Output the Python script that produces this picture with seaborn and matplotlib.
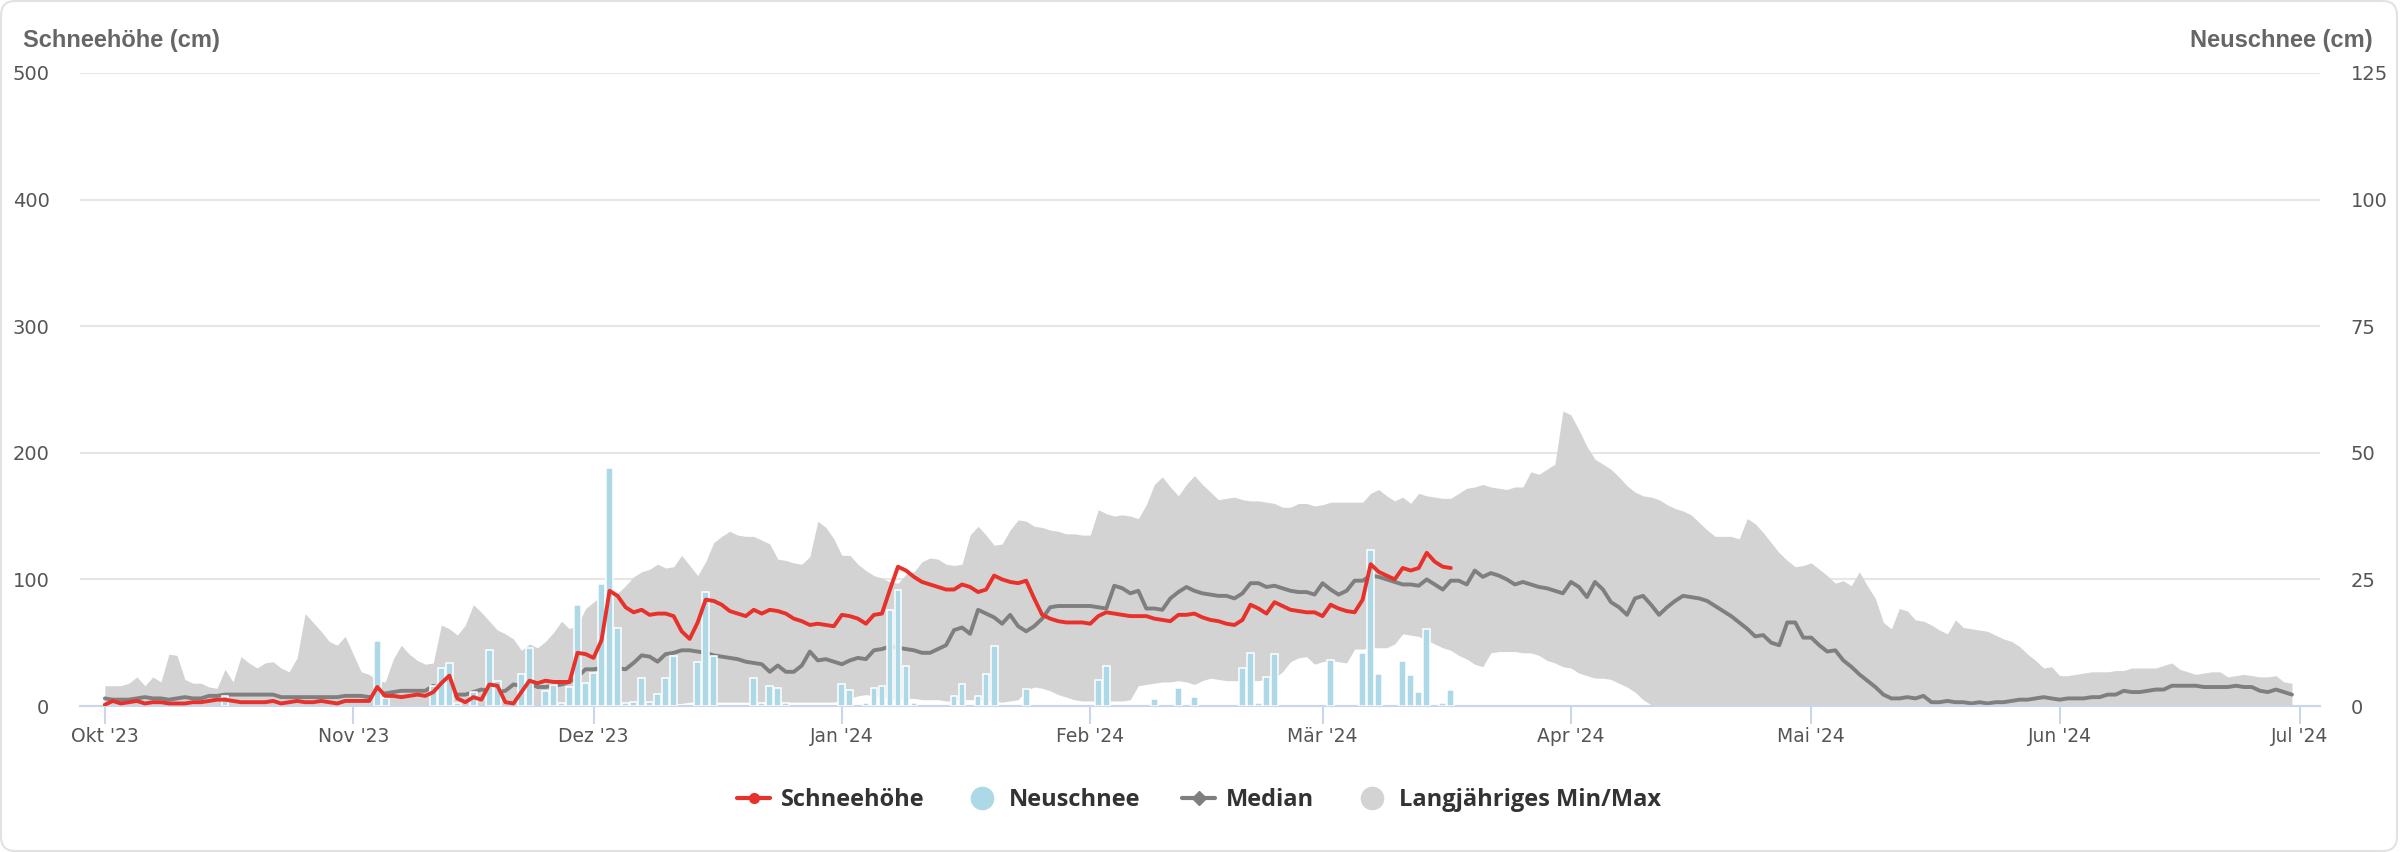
"""Schneehöhe vs. Neuschnee, season 2023/24, with long-term median and min/max band."""

import numpy as np
import pandas as pd
import matplotlib
matplotlib.use("Agg")
import matplotlib.pyplot as plt
import seaborn as sns
from matplotlib.lines import Line2D
from matplotlib.patches import FancyBboxPatch


START = "2023-10-01"

# daily snow depth (cm), 1 Oct 2023 .. 17 Mar 2024
SCHNEEHOEHE = [
    1, 4, 2, 3, 4, 2, 3, 3, 2, 2,
    2, 3, 3, 4, 5, 5, 4, 3, 3, 3,
    3, 4, 2, 3, 4, 3, 3, 4, 3, 2,
    4, 4, 4, 4, 15, 8, 8, 7, 8, 9,
    8, 11, 18, 24, 6, 3, 7, 5, 17, 16,
    3, 2, 11, 20, 18, 20, 19, 19, 19, 42,
    41, 38, 52, 91, 87, 78, 74, 76, 72, 73,
    73, 71, 59, 53, 66, 84, 83, 80, 75, 73,
    71, 76, 73, 76, 75, 73, 69, 67, 64, 65,
    64, 63, 72, 71, 69, 65, 72, 73, 92, 110,
    107, 102, 98, 96, 94, 92, 92, 96, 94, 90,
    92, 103, 100, 98, 97, 99, 85, 72, 69, 67,
    66, 66, 66, 65, 71, 74, 73, 72, 71, 71,
    71, 69, 68, 67, 72, 72, 73, 70, 68, 67,
    65, 64, 68, 80, 77, 73, 82, 79, 76, 75,
    74, 74, 71, 80, 77, 75, 74, 84, 112, 106,
    103, 100, 109, 107, 109, 121, 114, 110, 109,
]

# daily new snow (cm), same days
NEUSCHNEE = [
    0, 0, 0, 0, 0, 0, 0, 0, 0, 0,
    0, 0, 0, 0, 0, 2, 0, 0, 0, 0,
    0, 0, 0, 0, 0, 0, 0, 0, 0, 0,
    0, 0, 0, 0, 12.9, 1.5, 0, 0, 0, 0,
    0, 4, 7.6, 8.4, 0.5, 0, 2.8, 0, 11.1, 5,
    0, 0, 6.4, 11.5, 0, 3, 4.1, 0.5, 3.8, 20,
    4.6, 6.6, 24, 47, 15.5, 0.5, 0.7, 5.6, 0.7, 2.3,
    5.6, 9.9, 0, 0, 8.7, 22.6, 9.9, 0, 0, 0,
    0, 5.6, 0.5, 4, 3.6, 0.5, 0, 0, 0, 0,
    0, 0, 4.4, 3.2, 0, 0.6, 3.5, 4, 19, 23,
    7.9, 0.5, 0, 0, 0, 0, 1.9, 4.3, 0, 2,
    6.3, 11.9, 0, 0, 0, 3.4, 0, 0, 0, 0,
    0, 0, 0, 0, 5.1, 7.9, 0, 0, 0, 0,
    0, 1.3, 0, 0, 3.6, 0, 1.7, 0, 0, 0,
    0, 0, 7.5, 10.5, 0.5, 5.8, 10.2, 0, 0, 0,
    0, 0, 0, 9, 0, 0, 0, 10.4, 30.8, 6.4,
    0, 0, 8.8, 6.1, 2.8, 15.3, 0, 0.5, 3.2,
]

# long-term median snow depth, 1 Oct .. 30 Jun
MEDIAN = [
    6, 5, 5, 5, 6, 7, 6, 6, 5, 6,
    7, 6, 6, 8, 8, 9, 9, 9, 9, 9,
    9, 9, 7, 7, 7, 7, 7, 7, 7, 7,
    8, 8, 8, 7, 8, 10, 11, 12, 12, 12,
    12, 16, 12, 9, 9, 9, 11, 13, 12, 11,
    12, 17, 16, 18, 15, 15, 16, 17, 19, 23,
    29, 29, 30, 30, 30, 29, 34, 40, 39, 35,
    41, 42, 44, 44, 43, 42, 40, 39, 38, 37,
    35, 34, 33, 27, 32, 27, 27, 32, 43, 36,
    37, 35, 33, 36, 38, 37, 44, 45, 47, 46,
    45, 44, 42, 42, 45, 48, 60, 62, 57, 76,
    73, 70, 65, 72, 63, 59, 63, 69, 78, 79,
    79, 79, 79, 79, 78, 77, 95, 93, 89, 91,
    77, 77, 76, 85, 90, 94, 91, 89, 88, 87,
    87, 85, 89, 97, 97, 94, 95, 93, 91, 90,
    90, 88, 97, 92, 88, 91, 99, 99, 103, 102,
    100, 98, 96, 96, 95, 100, 96, 92, 99, 99,
    96, 107, 102, 105, 103, 100, 96, 98, 96, 94,
    93, 91, 89, 98, 94, 86, 98, 92, 82, 78,
    72, 85, 87, 80, 72, 78, 83, 87, 86, 85,
    83, 79, 75, 71, 66, 61, 55, 56, 50, 48,
    66, 66, 54, 54, 48, 43, 44, 36, 31, 25,
    20, 15, 9, 6, 6, 7, 6, 8, 3, 3,
    4, 3, 3, 2, 3, 2, 3, 3, 4, 5,
    5, 6, 7, 6, 5, 6, 6, 6, 7, 7,
    9, 9, 12, 11, 11, 12, 13, 13, 16, 16,
    16, 16, 15, 15, 15, 15, 16, 15, 15, 12,
    11, 13, 11, 9,
]

# long-term maximum
MAX_HIST = [
    16, 16, 16, 18, 23, 16, 23, 19, 41, 40,
    21, 18, 18, 15, 14, 29, 19, 39, 34, 30,
    34, 35, 30, 27, 38, 73, 66, 59, 51, 48,
    55, 41, 27, 25, 20, 19, 37, 48, 41, 36,
    33, 34, 64, 61, 56, 64, 80, 74, 67, 60,
    57, 53, 44, 49, 46, 51, 58, 67, 61, 64,
    77, 82, 87, 90, 89, 95, 102, 106, 108, 112,
    109, 110, 119, 111, 103, 114, 129, 134, 138, 135,
    134, 134, 131, 128, 116, 115, 113, 112, 118, 146,
    141, 132, 119, 119, 112, 107, 103, 101, 98, 97,
    104, 106, 114, 117, 116, 112, 111, 112, 135, 142,
    135, 127, 128, 139, 147, 146, 142, 141, 139, 138,
    136, 136, 135, 135, 155, 152, 150, 151, 150, 148,
    159, 175, 181, 173, 166, 175, 182, 175, 169, 163,
    164, 165, 163, 162, 162, 161, 160, 157, 157, 160,
    160, 158, 159, 161, 161, 161, 161, 161, 168, 171,
    166, 162, 165, 160, 168, 166, 165, 164, 164, 168,
    172, 173, 175, 173, 172, 171, 173, 173, 185, 183,
    187, 191, 233, 230, 218, 205, 195, 191, 187, 181,
    174, 169, 166, 165, 163, 159, 156, 154, 151, 145,
    139, 134, 134, 134, 132, 148, 144, 137, 129, 121,
    115, 110, 111, 113, 108, 103, 97, 99, 95, 106,
    95, 85, 66, 61, 77, 75, 68, 67, 64, 60,
    57, 68, 62, 61, 60, 59, 56, 53, 51, 47,
    41, 36, 30, 31, 24, 24, 25, 26, 27, 27,
    27, 28, 28, 30, 30, 30, 30, 32, 34, 29,
    27, 25, 26, 27, 27, 23, 24, 25, 24, 23,
    23, 24, 19, 18,
]

# long-term minimum
MIN_HIST = [0] * 60 + [
    1, 1, 1, 1, 1, 1, 1, 1, 1, 1,
    2, 2, 2, 3, 3, 3, 3, 3, 3, 3,
    3, 3, 3, 3, 3, 3, 3, 3, 3, 3,
    3, 3, 5, 6, 8, 9, 8, 7, 5, 5,
    6, 6, 5, 5, 5, 4, 4, 5, 5, 5,
    4, 4, 3, 4, 5, 12, 15, 14, 12, 9,
    7, 5, 4, 4, 4, 4, 4, 4, 5, 16,
    17, 18, 19, 19, 20, 19, 17, 20, 22, 21,
    20, 20, 20, 20, 20, 21, 22, 27, 35, 38,
    39, 33, 35, 36, 35, 34, 45, 45, 46, 46,
    46, 49, 57, 56, 55, 52, 49, 46, 44, 40,
    37, 33, 31, 42, 43, 43, 43, 42, 42, 40,
    36, 34, 31, 30, 26, 24, 22, 22, 21, 18,
    15, 11, 5, 1,
] + [0] * 80

MONTH_LABELS = ["Okt '23", "Nov '23", "Dez '23", "Jan '24", "Feb '24",
                "Mär '24", "Apr '24", "Mai '24", "Jun '24", "Jul '24"]

RED = "#e8312a"
BLUE = "#add8e6"
GREY = "#7f7f7f"
BAND = "#d3d3d3"

sns.set_theme(style="white")
plt.rcParams["font.family"] = ["DejaVu Sans"]

days_all = pd.date_range(START, periods=len(MEDIAN), freq="D")
days_cur = pd.date_range(START, periods=len(SCHNEEHOEHE), freq="D")
neu = np.array(NEUSCHNEE, dtype=float)
has_neu = neu > 0

W, H = 2404, 852
fig = plt.figure(figsize=(W / 100, H / 100), dpi=100)
ax = fig.add_axes([80 / W, 1 - 706 / H, 2240 / W, 633 / H])

# band + median on the left scale
ax.fill_between(days_all, MIN_HIST, MAX_HIST, color=BAND, lw=0, zorder=1)
sns.lineplot(x=days_all, y=MEDIAN, ax=ax, color=GREY, lw=2.8, zorder=2)

# new snow on the right scale
ax_n = ax.twinx()
ax_n.bar(days_cur[has_neu], neu[has_neu], width=0.85, color=BLUE,
         edgecolor="white", linewidth=1.1)

# current snow depth on top
ax_r = ax.twinx()
sns.lineplot(x=days_cur, y=SCHNEEHOEHE, ax=ax_r, color=RED, lw=2.8)

t0 = pd.Timestamp(START)
ax.set_xlim(t0 - pd.Timedelta(days=3.1), t0 + pd.Timedelta(days=276.5))
ax.set_ylim(0, 500)
ax_r.set_ylim(0, 500)
ax_n.set_ylim(0, 125)

ticks = pd.date_range(START, "2024-07-01", freq="MS")
ax.set_xticks(ticks)
ax.set_xticklabels(MONTH_LABELS)
ax.set_yticks(np.arange(0, 501, 100))
ax_n.set_yticks(np.arange(0, 126, 25))
ax_r.set_yticks([])

for a in (ax, ax_n, ax_r):
    a.set_xlabel("")
    a.set_ylabel("")
    for s in a.spines.values():
        s.set_visible(False)
ax.spines["bottom"].set_visible(True)
ax.spines["bottom"].set_color("#ccd6eb")
ax.spines["bottom"].set_linewidth(1.5)
ax.spines["bottom"].set_zorder(5)

ax.yaxis.grid(True, color="#e6e6e6", lw=1.5)
ax.set_axisbelow(True)

ax.tick_params(axis="x", direction="out", length=13, width=1.5, color="#ccd6eb",
               pad=2, labelsize=13.5, labelcolor="#555555", bottom=True)
ax.tick_params(axis="y", length=0, pad=22, labelsize=14, labelcolor="#555555")
ax_n.tick_params(axis="y", length=0, pad=22, labelsize=14, labelcolor="#555555")

# axis titles
fig.text(23 / W, 1 - 40 / H, "Schneehöhe (cm)", ha="left", va="center",
         fontsize=17, fontweight="bold", color="#666666", family="Liberation Sans")
fig.text(2373 / W, 1 - 40 / H, "Neuschnee (cm)", ha="right", va="center",
         fontsize=17, fontweight="bold", color="#666666", family="Liberation Sans")

handles = [
    Line2D([], [], color=RED, lw=3, marker="o", markersize=7),
    Line2D([], [], lw=0, marker="o", markersize=16, color=BLUE),
    Line2D([], [], color=GREY, lw=3, marker="D", markersize=7),
    Line2D([], [], lw=0, marker="o", markersize=16, color=BAND),
]
labels = ["Schneehöhe", "Neuschnee", "Median", "Langjähriges Min/Max"]
fig.legend(handles, labels, loc="center", bbox_to_anchor=(1199 / W, 1 - 800 / H),
           ncol=4, frameon=False, handlelength=1.4, handletextpad=0.45,
           columnspacing=1.75,
           prop={"family": "Open Sans", "weight": "bold", "size": 17},
           labelcolor="#333333")

# rounded card border
fig.patches.append(FancyBboxPatch(
    (1 / W, 1 / H), (W - 8) / W, (H - 2) / H,
    boxstyle="round,pad=0,rounding_size=0.006", mutation_aspect=W / H,
    transform=fig.transFigure, fc="none", ec="#e2e2e2", lw=1.5))

fig.savefig("out.png", dpi=100)
